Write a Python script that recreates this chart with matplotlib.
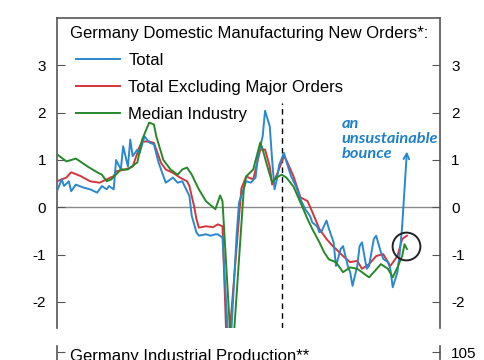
import matplotlib
matplotlib.use("Agg")
import matplotlib.pyplot as plt

plt.rcParams['font.family'] = ['Liberation Sans', 'DejaVu Sans']
plt.rcParams['axes.unicode_minus'] = False

# month index, value (standardized)
total_m = [0, 2, 3, 5, 6, 8, 11, 14, 17, 19, 21, 22, 24, 25, 27, 28, 30, 31, 32, 34, 35, 37, 39, 41,
           43, 45, 46, 48, 49, 51, 53, 56, 57, 59, 60, 63, 65, 67, 68, 70, 73, 76, 77, 80, 82, 84,
           85, 87, 88, 90, 91, 92, 93, 94, 96, 97, 99, 101, 103, 105, 107, 108, 110, 111, 112, 114,
           115, 117, 118, 120, 121, 123, 124, 125, 127, 128, 129, 131, 132, 134, 135, 137, 138, 140,
           141, 142, 144, 145, 146, 148]
total_v = [0.34, 0.59, 0.45, 0.55, 0.34, 0.48, 0.42, 0.38, 0.31, 0.45, 0.38, 0.45, 0.38, 1.0, 0.8,
           1.29, 0.86, 1.43, 1.08, 1.22, 1.15, 1.5, 1.37, 1.33, 0.94, 0.66, 0.52, 0.59, 0.63, 0.52,
           0.55, 0.24, -0.18, -0.53, -0.6, -0.57, -0.6, -0.57, -0.57, -0.64, -3.3, -0.57, 0.1, 0.55,
           0.52, 0.63, 1.08, 1.5, 2.04, 1.71, 1.0, 0.38, 0.59, 0.9, 1.15, 0.97, 0.66, 0.45, 0.17,
           -0.04, -0.18, -0.32, -0.4, -0.53, -0.5, -0.28, -0.45, -0.74, -1.24, -0.88, -0.82, -1.24,
           -1.37, -1.66, -1.24, -0.82, -0.74, -1.3, -1.24, -0.67, -0.6, -0.95, -1.09, -1.16, -1.3,
           -1.69, -1.37, -0.95, -0.4, 1.18]

exmajor_m = [0, 4, 6, 10, 14, 18, 21, 24, 25, 29, 32, 35, 36, 39, 41, 44, 46, 49, 52, 55, 56, 58,
             59, 60, 63, 66, 68, 70, 72, 78, 80, 83, 86, 88, 90, 91, 93, 96, 97, 100, 103, 106, 108,
             111, 114, 117, 118, 121, 124, 127, 129, 132, 135, 138, 141, 144, 146, 148]
exmajor_v = [0.55, 0.63, 0.74, 0.66, 0.55, 0.52, 0.59, 0.66, 0.76, 0.8, 0.86, 1.29, 1.39, 1.39, 1.36,
             0.94, 0.8, 0.73, 0.63, 0.55, 0.45, 0.02, -0.25, -0.43, -0.4, -0.42, -0.36, -0.4, -3.3,
             0.4, 0.65, 0.59, 1.22, 1.22, 0.86, 0.48, 0.69, 1.08, 1.0, 0.66, 0.21, 0.13, -0.1, -0.46,
             -0.67, -0.84, -0.88, -1.03, -1.16, -1.13, -1.3, -1.2, -1.03, -0.99, -1.24, -1.03, -0.67,
             -0.6]

median_m = [0, 4, 8, 13, 17, 19, 21, 23, 27, 30, 34, 36, 39, 41, 42, 45, 48, 51, 53, 55, 57, 60, 63,
            67, 69, 70, 74, 79, 80, 83, 86, 87, 89, 91, 93, 95, 97, 100, 103, 106, 108, 111, 113,
            115, 118, 121, 124, 127, 129, 132, 134, 137, 140, 142, 144, 146, 147, 148]
median_v = [1.12, 0.97, 1.03, 0.86, 0.74, 0.69, 0.55, 0.59, 0.8, 0.8, 0.95, 1.43, 1.79, 1.75, 1.5,
            1.0, 0.8, 0.69, 0.8, 0.84, 0.69, 0.38, 0.13, -0.04, 0.25, 0.13, -3.3, 0.38, 0.65, 0.8,
            1.37, 1.22, 0.86, 0.53, 0.63, 0.69, 0.63, 0.44, 0.1, -0.25, -0.46, -0.74, -0.95, -1.1,
            -1.16, -1.37, -1.27, -1.3, -1.37, -1.48, -1.37, -1.2, -1.3, -1.48, -1.27, -1.03, -0.78,
            -0.88]

event_month = 95
blue = '#2a88cf'
red = '#d2363c'
green = '#27882a'
spine_c = '#555555'

fig = plt.figure(figsize=(4.85, 3.6), dpi=100)
ax = fig.add_axes([0.1175, 0.0889, 0.7897, 0.8611])

ax.axhline(0, color='#8a8a8a', lw=1, zorder=1)
ax.vlines(event_month, -2.55, 2.2, colors='black', linestyles=(0, (4, 3)), lw=1, zorder=2)

ax.plot(total_m[:-1], total_v[:-1], color=blue, lw=1.4, label='Total', zorder=4)
ax.plot(exmajor_m, exmajor_v, color=red, lw=1.4, label='Total Excluding Major Orders', zorder=3)
ax.plot(median_m, median_v, color=green, lw=1.4, label='Median Industry', zorder=5)

# the last jump of the total series drawn as an arrow
ax.annotate('', xy=(total_m[-1], total_v[-1]), xytext=(total_m[-2], total_v[-2]),
            arrowprops=dict(arrowstyle='->', color=blue, lw=1.4, shrinkA=0, shrinkB=0), zorder=4)

ax.plot([147.6], [-0.82], marker='o', markersize=20, fillstyle='none',
        markeredgecolor='#222222', markeredgewidth=1.4, zorder=6)

ax.text(120.3, 1.9, 'an\nunsustainable\nbounce', color='#1f80c8', fontsize=11.8,
        fontweight='bold', fontstyle='italic', va='top', ha='left', linespacing=1.08,
        family=['Lato', 'DejaVu Sans'])

ax.set_xlim(0, 162)
ax.set_ylim(-2.55, 4.0)
ax.set_yticks([-2, -1, 0, 1, 2, 3])
ax.set_xticks([])
ax.tick_params(axis='y', direction='in', length=6, color=spine_c, labelsize=11,
               left=True, right=True, labelleft=True, labelright=True, pad=8)
ax.spines['bottom'].set_visible(False)
for s in ['top', 'left', 'right']:
    ax.spines[s].set_color(spine_c)
    ax.spines[s].set_linewidth(1.2)

ax.text(0.034, 0.951, 'Germany Domestic Manufacturing New Orders*:', transform=ax.transAxes,
        fontsize=12, va='center', ha='left')
ax.legend(loc='upper left', bbox_to_anchor=(0.0496, 0.887), frameon=False, fontsize=12,
          handlelength=2.65, handletextpad=0.5, labelspacing=0.72, borderaxespad=0,
          borderpad=0)

# second panel, mostly below the visible area
ax2 = fig.add_axes([0.1175, -0.5, 0.7897, 0.5389])
ax2.set_xlim(0, 162)
ax2.set_ylim(80, 105.8)
ax2.set_yticks([85, 90, 95, 100, 105])
ax2.set_xticks([])
ax2.tick_params(axis='y', direction='in', length=6, color=spine_c, labelsize=11,
                left=True, right=True, labelleft=False, labelright=True, pad=8)
ax2.spines['top'].set_visible(False)
ax2.spines['bottom'].set_visible(False)
for s in ['left', 'right']:
    ax2.spines[s].set_color(spine_c)
    ax2.spines[s].set_linewidth(1.2)
ax2.text(0.034, 0.985, 'Germany Industrial Production**', transform=ax2.transAxes,
         fontsize=12, va='top', ha='left')

fig.savefig('out.png', dpi=100)
